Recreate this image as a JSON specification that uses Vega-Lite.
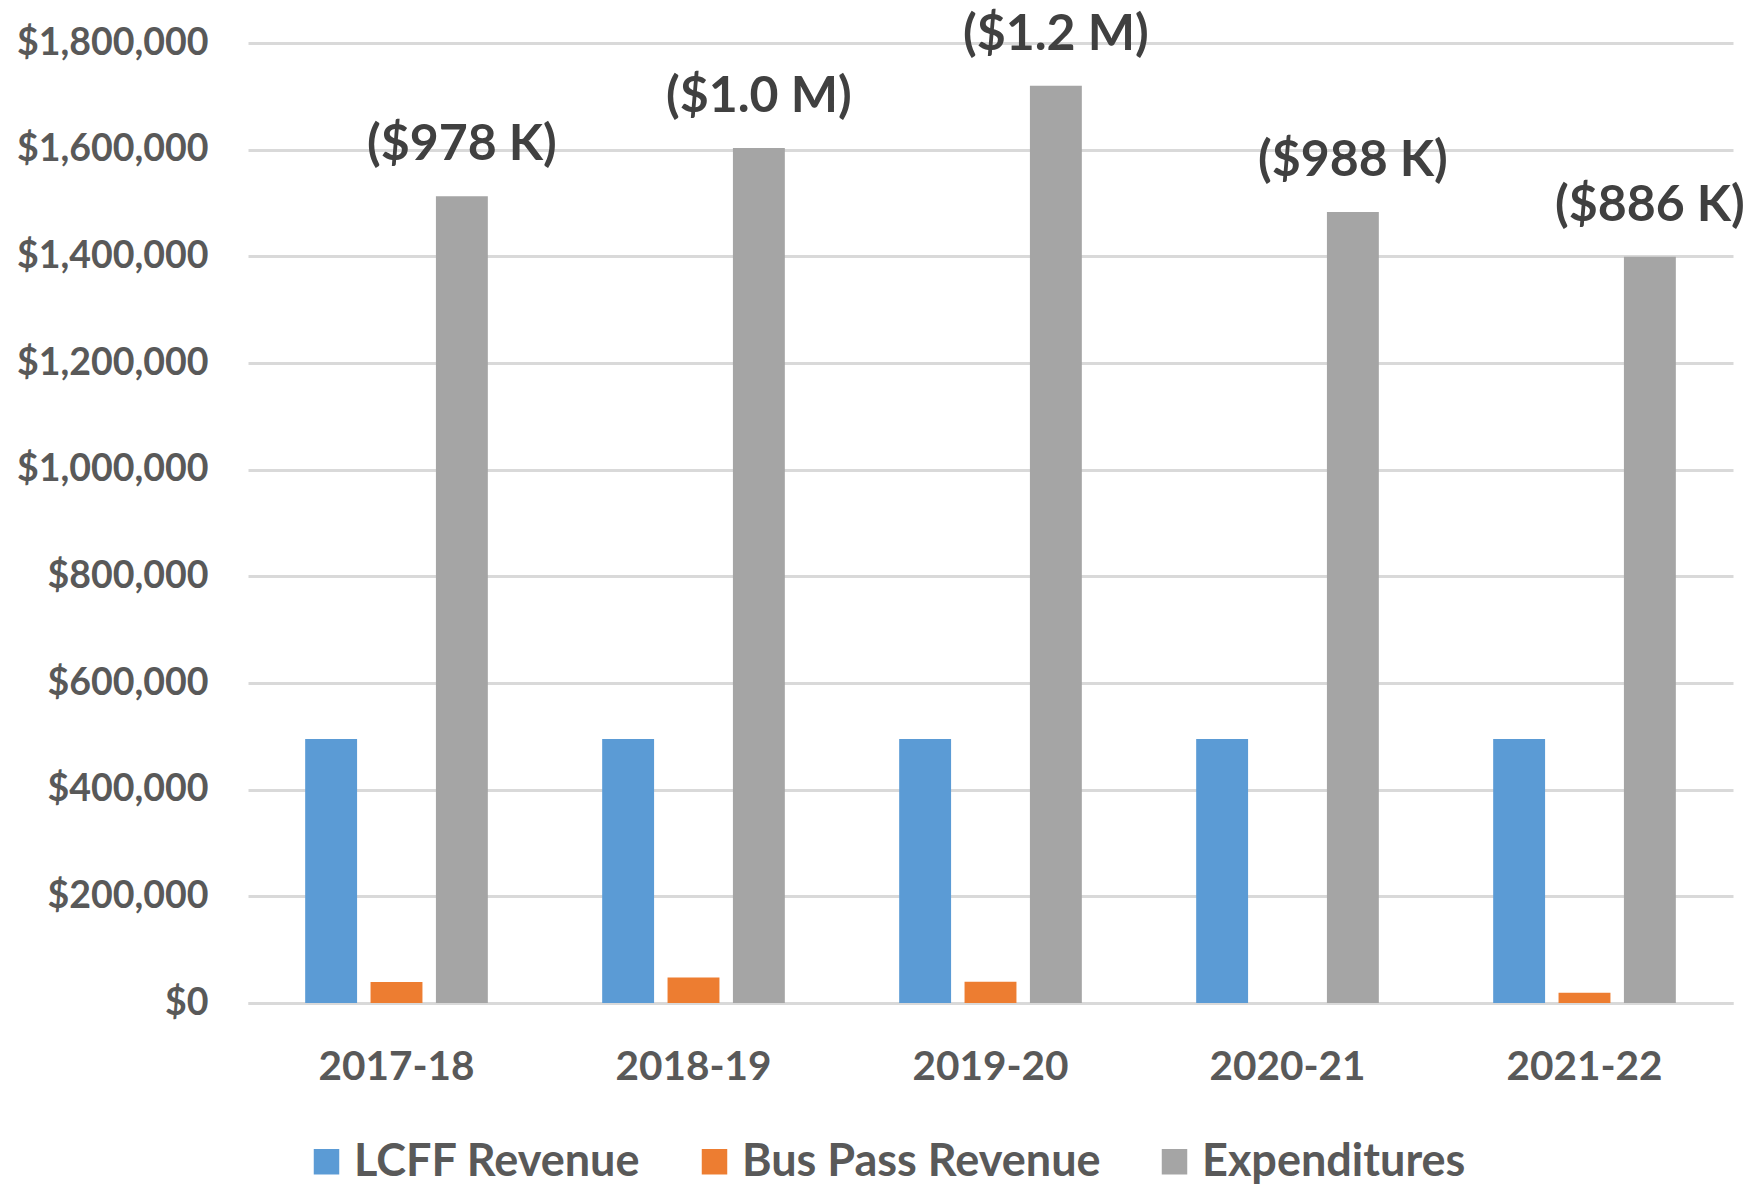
{
  "$schema": "https://vega.github.io/schema/vega-lite/v6.json",
  "width": 1485,
  "height": 960,
  "autosize": {"type": "none"},
  "padding": {"left": 248, "top": 43, "right": 22, "bottom": 184},
  "background": "white",
  "config": {
    "view": {"stroke": null},
    "font": "Lato",
    "axis": {"labelFont": "Lato", "labelFontWeight": "bold", "labelColor": "#595959", "labelLimit": 0},
    "legend": {"labelFont": "Lato", "labelLimit": 0}
  },
  "data": {
    "values": [
      {"year": "2017-18", "series": "LCFF Revenue", "value": 495000},
      {"year": "2017-18", "series": "Bus Pass Revenue", "value": 39500},
      {"year": "2017-18", "series": "Expenditures", "value": 1512500, "label": "($978 K)"},
      {"year": "2018-19", "series": "LCFF Revenue", "value": 495000},
      {"year": "2018-19", "series": "Bus Pass Revenue", "value": 48000},
      {"year": "2018-19", "series": "Expenditures", "value": 1603000, "label": "($1.0 M)"},
      {"year": "2019-20", "series": "LCFF Revenue", "value": 495000},
      {"year": "2019-20", "series": "Bus Pass Revenue", "value": 40000},
      {"year": "2019-20", "series": "Expenditures", "value": 1720000, "label": "($1.2 M)"},
      {"year": "2020-21", "series": "LCFF Revenue", "value": 495000},
      {"year": "2020-21", "series": "Bus Pass Revenue", "value": 0},
      {"year": "2020-21", "series": "Expenditures", "value": 1483000, "label": "($988 K)"},
      {"year": "2021-22", "series": "LCFF Revenue", "value": 495000},
      {"year": "2021-22", "series": "Bus Pass Revenue", "value": 19000},
      {"year": "2021-22", "series": "Expenditures", "value": 1399000, "label": "($886 K)"}
    ]
  },
  "encoding": {
    "x": {
      "field": "year",
      "type": "nominal",
      "scale": {"paddingInner": 0.385, "paddingOuter": 0.1925},
      "axis": {
        "title": null,
        "labelAngle": 0,
        "labelFontSize": 40.5,
        "labelPadding": 44,
        "ticks": false,
        "domain": true,
        "domainColor": "#d9d9d9",
        "domainWidth": 3,
        "grid": false
      }
    },
    "xOffset": {
      "field": "series",
      "type": "nominal",
      "sort": ["LCFF Revenue", "Bus Pass Revenue", "Expenditures"],
      "scale": {"paddingInner": 0.206, "paddingOuter": 0}
    }
  },
  "layer": [
    {
      "mark": {"type": "bar"},
      "encoding": {
        "y": {
          "field": "value",
          "type": "quantitative",
          "scale": {"domain": [0, 1800000], "nice": false},
          "axis": {
            "title": null,
            "values": [0, 200000, 400000, 600000, 800000, 1000000, 1200000, 1400000, 1600000, 1800000],
            "format": "$,.0f",
            "labelFontSize": 37.5,
            "labelPadding": 40,
            "ticks": false,
            "domain": false,
            "grid": true,
            "gridColor": "#d9d9d9",
            "gridWidth": 3
          }
        },
        "color": {
          "field": "series",
          "type": "nominal",
          "sort": ["LCFF Revenue", "Bus Pass Revenue", "Expenditures"],
          "scale": {
            "domain": ["LCFF Revenue", "Bus Pass Revenue", "Expenditures"],
            "range": ["#5B9BD5", "#ED7D31", "#A5A5A5"]
          },
          "legend": {
            "title": null,
            "orient": "none",
            "legendX": 56,
            "legendY": 1096,
            "padding": 0,
            "direction": "horizontal",
            "symbolType": "square",
            "symbolSize": 650,
            "symbolStrokeWidth": 0,
            "symbolOpacity": 1,
            "labelFontSize": 45,
            "labelFontWeight": "bold",
            "labelColor": "#595959",
            "labelOffset": 5,
            "columnPadding": 51
          }
        }
      }
    },
    {
      "transform": [{"filter": "datum.series == 'Expenditures'"}],
      "mark": {
        "type": "text",
        "baseline": "middle",
        "align": "center",
        "dy": -51,
        "fontSize": 50,
        "fontWeight": "bold",
        "color": "#404040",
        "clip": false
      },
      "encoding": {
        "y": {"field": "value", "type": "quantitative"},
        "text": {"field": "label", "type": "nominal"}
      }
    }
  ]
}
